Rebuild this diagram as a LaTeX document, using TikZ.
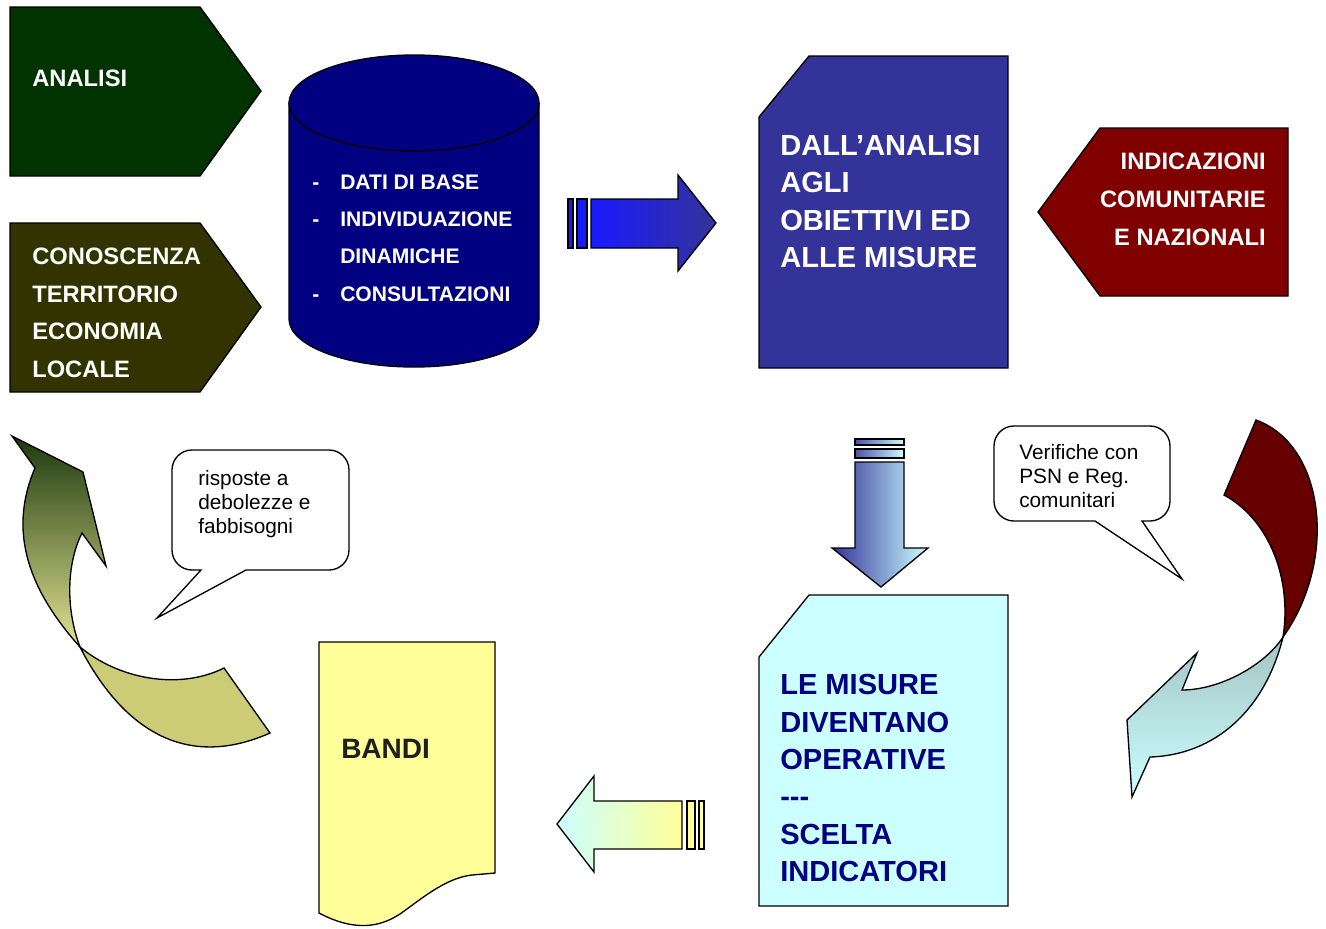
\documentclass[tikz,border=0pt]{standalone}
\usepackage{fontspec}
\setmainfont{Liberation Sans}
\definecolor{cAnalisi}{HTML}{003300}
\definecolor{cTerr}{HTML}{333300}
\definecolor{cNavy}{HTML}{000080}
\definecolor{cPurple}{HTML}{333399}
\definecolor{cMaroon}{HTML}{800000}
\definecolor{cDarkRed}{HTML}{660000}
\definecolor{cCyan}{HTML}{CCFFFF}
\definecolor{cYellow}{HTML}{FFFF99}
\definecolor{cBlue}{HTML}{1A1AFF}
\definecolor{cOlive}{HTML}{CCCC77}
\definecolor{cDkGreen}{HTML}{1C3A0E}
\definecolor{cPaleOlive}{HTML}{E2E292}
\definecolor{cGreyCyan}{HTML}{A3C4C4}
\begin{document}
\begin{tikzpicture}[x=0.75pt,y=-0.75pt,
  shp/.style={draw=black, line width=1pt, line join=miter},
  bigtxt/.style={inner sep=0pt, anchor=base west, align=left, text=white,
    font=\bfseries\fontsize{17.8}{28.1}\selectfont},
  cyltxt/.style={inner sep=0pt, anchor=base west, align=left, text=white,
    font=\bfseries\fontsize{15.8}{28}\selectfont},
  boxtxt/.style={inner sep=0pt, anchor=base west, align=left,
    font=\bfseries\fontsize{21.8}{28}\selectfont},
  bubtxt/.style={inner sep=0pt, anchor=base west, align=left, text=black,
    font=\fontsize{15.6}{18}\selectfont},
  bubble/.style={draw=black, line width=1pt, fill=white, line join=miter}]
\useasboundingbox (0,0) rectangle (1326,928);

% ---------- left pentagons ----------
\path[shp, fill=cAnalisi] (10,7) -- (200,7) -- (261,91) -- (200,176) -- (10,176) -- cycle;
\node[bigtxt] (analisi) at (32,86) {ANALISI};
\path[shp, fill=cTerr] (10,223) -- (200,223) -- (261,307) -- (200,392) -- (10,392) -- cycle;
\node[bigtxt] (conoscenza) at (32,377) {CONOSCENZA\\TERRITORIO\\ECONOMIA\\LOCALE};

% ---------- cylinder ----------
\path[shp, fill=cNavy] (289,103) -- (289,319) arc[start angle=180, end angle=360, x radius=93.75pt, y radius=36pt] -- (539,103) -- cycle;
\path[shp, fill=cNavy] (414,103) ellipse [x radius=93.75pt, y radius=36pt];
\node[cyltxt] (dati) at (312,301) {\makebox[21pt][l]{-}DATI DI BASE\\
  \makebox[21pt][l]{-}INDIVIDUAZIONE\\
  \makebox[21pt][l]{}DINAMICHE\\
  \makebox[21pt][l]{-}CONSULTAZIONI};

% ---------- blue block arrow ----------
\path[shp, fill=cBlue] (568,199) rectangle (573,248);
\path[shp, fill=cBlue] (577,199) rectangle (587,248);
\path[shp, left color=cBlue, right color=cPurple] (591,199) -- (678,199) -- (678,175) -- (716,223) -- (678,271) -- (678,248) -- (591,248) -- cycle;

% ---------- objectives box ----------
\path[shp, fill=cPurple] (809,56) -- (1008,56) -- (1008,368) -- (759,368) -- (759,117) -- cycle;
\node[boxtxt, text=white] (obiettivi) at (780,267.5) {DALL’ANALISI\\AGLI\\OBIETTIVI ED\\ALLE MISURE};

% ---------- indicazioni ----------
\path[shp, fill=cMaroon] (1100,128) -- (1288,128) -- (1288,296) -- (1100,296) -- (1038,212) -- cycle;
\node[bigtxt, anchor=base east, align=right, font=\bfseries\fontsize{17.8}{28.5}\selectfont] (indicazioni) at (1266,245.5) {INDICAZIONI\\COMUNITARIE\\E NAZIONALI};

% ---------- down block arrow ----------
\path[shp, left color=cPurple!85!cCyan, right color=cCyan] (855,439) rectangle (904,445);
\path[shp, left color=cPurple!85!cCyan, right color=cCyan] (855,449) rectangle (904,458);
\path[shp, left color=cPurple, right color=cCyan] (855,462) -- (904,462) -- (904,548) -- (928,548) -- (881,587) -- (832,548) -- (855,548) -- cycle;

% ---------- measures box ----------
\path[shp, fill=cCyan] (809,595) -- (1008,595) -- (1008,906) -- (759,906) -- (759,657) -- cycle;
\node[boxtxt, text=cNavy] (misure) at (780,881.5) {LE MISURE\\DIVENTANO\\OPERATIVE\\-{}-{}-\\SCELTA\\INDICATORI};

% ---------- left block arrow ----------
\path[shp, fill=cYellow] (687,801) rectangle (695,849);
\path[shp, fill=cYellow] (699,801) rectangle (704,849);
\path[shp, left color=cCyan, right color=cYellow] (682,801) -- (594,801) -- (594,776) -- (557,824) -- (594,872) -- (594,849) -- (682,849) -- cycle;

% ---------- bandi document ----------
\path[shp, fill=cYellow] (319,642) -- (495,642) -- (495,873) -- (472,875)
  .. controls (445,878) and (420,900) .. (400,914)
  .. controls (380,927) and (355,932) .. (319,913) -- cycle;
\node[boxtxt, text=black!88, font=\bfseries\fontsize{21}{25}\selectfont] (bandi) at (341,758) {BANDI};

% ---------- speech bubbles ----------
\path[bubble] (201,570) -- (157,618) -- (246,570) -- (329,570)
  arc[start angle=270, end angle=360, radius=15pt] -- (349,470)
  arc[start angle=0, end angle=90, radius=15pt] -- (192,450)
  arc[start angle=90, end angle=180, radius=15pt] -- (172,550)
  arc[start angle=180, end angle=270, radius=15pt] -- cycle;
\node[bubtxt] (risposte) at (198,533.5) {risposte a\\debolezze e\\fabbisogni};
\path[bubble] (1142,521) -- (1182,579) -- (1095,521) -- (1014,521)
  arc[start angle=270, end angle=180, radius=15pt] -- (994,446)
  arc[start angle=180, end angle=90, radius=15pt] -- (1150,426)
  arc[start angle=90, end angle=0, radius=15pt] -- (1170,501)
  arc[start angle=0, end angle=-90, radius=15pt] -- cycle;
\node[bubtxt] (verifiche) at (1019,507.5) {Verifiche con\\PSN e Reg.\\comunitari};

% ---------- olive curved arrow (left) ----------
\path[shp, fill=cOlive] (80,647) .. controls (115,715) and (175,775) .. (270,733)
  -- (224,668) .. controls (180,690) and (120,680) .. (80,647) -- cycle;
\path[shp, top color=cDkGreen, bottom color=cPaleOlive] (12,436) -- (83,472) -- (106,566) -- (82,533)
  .. controls (66,565) and (66,610) .. (80,647)
  .. controls (38,600) and (4,540) .. (35,468) -- cycle;

% ---------- maroon / cyan curved arrow (right) ----------
\path[shp, fill=cDarkRed] (1256,420) .. controls (1325,445) and (1338,560) .. (1283,637)
  .. controls (1292,580) and (1270,520) .. (1224,495) -- cycle;
\path[shp, top color=cGreyCyan, bottom color=cCyan] (1283,637) .. controls (1265,710) and (1215,755) .. (1150,757)
  -- (1132,797) -- (1127,720) -- (1197,653) -- (1182,690)
  .. controls (1220,690) and (1265,665) .. (1283,637) -- cycle;
\end{tikzpicture}
\end{document}
